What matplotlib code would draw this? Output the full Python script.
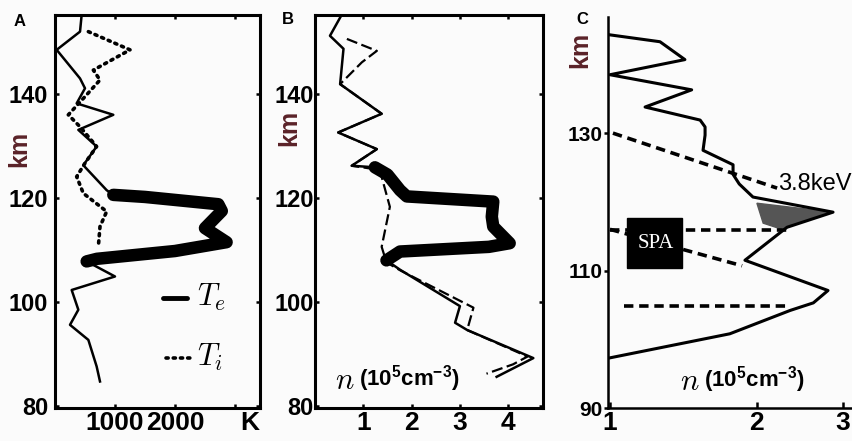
import numpy as np
import matplotlib.pyplot as plt
from matplotlib.patches import Rectangle

plt.rcParams['font.family'] = ['Liberation Sans', 'DejaVu Sans']
plt.rcParams['font.weight'] = 'bold'
plt.rcParams['mathtext.fontset'] = 'custom'
plt.rcParams['mathtext.rm'] = 'Liberation Sans:bold'
plt.rcParams['mathtext.bf'] = 'Liberation Sans:bold'

# ---- panel A: temperatures (K) vs altitude (km)
te_hi_K = [444, 417, 28, 417, 500, 361, 972, 389, 694, 472, 861, 972]
te_hi_km = [155.2, 152, 148.5, 143, 141.1, 138.2, 136, 133.1, 129.9, 126.3, 121.5, 120.6]
te_mid_K = [972, 1500, 2722, 2780, 2500, 2860, 2000, 700, 528]
te_mid_km = [120.6, 120.2, 118.8, 117.5, 114.2, 111.5, 109.8, 108.3, 107.8]
te_lo_K = [528, 1000, 278, 389, 250, 556, 694, 750]
te_lo_km = [107.8, 104.9, 102.3, 98.5, 95.6, 92.7, 87.6, 84.7]
ti_K = [556, 1250, 639, 750, 500, 222, 417, 694, 500, 361, 472, 861, 750, 722]
ti_km = [152, 148.5, 144.6, 142.7, 139.5, 136, 133.7, 129.9, 126.7, 124.1, 120.9, 117.4, 114.5, 110.6]

# ---- panel B: density (1e5 cm-3) vs altitude
nb_hi = [0.55, 0.31, 0.59, 0.52, 1.38, 0.48, 1.28, 0.76, 1.24]
nb_hi_km = [155.2, 151.2, 148.7, 141.9, 136.2, 132.6, 129.4, 126.2, 125.9]
nb_mid = [1.24, 1.5, 1.76, 1.9, 3.69, 3.66, 3.69, 4.03, 3.6, 1.76, 1.48]
nb_mid_km = [125.9, 124.5, 121.5, 120.3, 119.3, 116.4, 114.5, 111.3, 110.6, 109.7, 108.0]
nb_lo = [1.48, 1.76, 3.0, 2.9, 3.15, 4.52, 3.76]
nb_lo_km = [108.0, 106.2, 99.2, 96.0, 94.6, 89.2, 85.6]
nb_dash = [0.66, 1.28, 0.97, 0.52, 1.38, 0.48, 1.28, 0.76, 1.34, 1.55, 1.38, 1.48,
           1.78, 3.28, 3.15, 4.4, 4.1, 3.55]
nb_dash_km = [150.6, 148.3, 146.1, 141.9, 136.2, 132.6, 129.4, 126.2, 125.4, 118.3, 110.6, 107.6,
              106.0, 98.9, 94.6, 89.5, 88.0, 86.2]

# ---- panel C
nc = [1.0, 1.266, 1.424, 1.0, 1.47, 1.18, 1.53, 1.566, 1.566, 1.551, 1.787, 1.787, 1.84,
      1.963, 2.864, 2.305, 1.89, 2.797, 2.61, 2.34, 1.76, 1.0]
nc_km = [144.3, 143.3, 140.7, 138.5, 136.3, 133.8, 131.9, 130.9, 129.7, 127.5, 125.4, 124.0, 122.6,
         120.7, 118.5, 116.3, 111.5, 107.1, 105.3, 104.2, 100.8, 97.3]
shade_n = [2.0, 2.86, 2.23, 2.06]
shade_km = [119.8, 118.5, 116.1, 116.9]
guide_n = [[1.014, 2.2], [1.0, 2.3], [1.0, 1.865], [1.07, 2.34]]
guide_km = [[130.0, 122.0], [115.9, 115.9], [116.0, 110.7], [104.9, 104.9]]

W, H = 853, 441
fig = plt.figure(figsize=(W / 100, H / 100), dpi=100, facecolor='#fbfbfb')


def box(l, t, r, b):
    return [l / W, 1 - b / H, (r - l) / W, (b - t) / H]


def ftext(x, y, s, **kw):
    fig.text(x / W, 1 - y / H, s, **kw)


km_col = '#5a2228'
dots = (0, (0.6, 1.4))

axA = fig.add_axes(box(55, 15, 260, 408))
axB = fig.add_axes(box(315, 15, 543, 408))
axC = fig.add_axes(box(608, 17, 853, 408))

for ax in (axA, axB):
    ax.set_facecolor('none')
    for s in ax.spines.values():
        s.set_linewidth(2.2)
    ax.tick_params(direction='in', length=3, width=1.8, top=True, right=True)
    ax.tick_params(axis='x', labelsize=19, pad=2)
    ax.set_ylim(79.6, 155.2)
    ax.set_yticks([80, 100, 120, 140])

# A
axA.plot(te_hi_K, te_hi_km, color='k', lw=1.8, solid_joinstyle='round')
axA.plot(te_mid_K, te_mid_km, color='k', lw=9, solid_joinstyle='round', solid_capstyle='round')
axA.plot(te_lo_K, te_lo_km, color='k', lw=1.8, solid_joinstyle='round')
axA.plot(ti_K, ti_km, color='k', lw=2.6, linestyle=dots, dash_capstyle='round')
axA.set_xlim(0, 3417)
axA.set_xticks([1000, 2000, 3000])
axA.set_xticklabels(['1000', '2000', ''])
axA.tick_params(axis='y', labelsize=17, pad=5)

# legend
axA.plot([1800, 2200], [100.8, 100.8], color='k', lw=3.5, solid_capstyle='round')
ftext(197, 297, r'$T_e$', fontsize=22, math_fontfamily='cm', va='center')
axA.plot([1850, 2280], [89.2, 89.2], color='k', lw=2.6, linestyle=dots, dash_capstyle='round')
ftext(197, 357, r'$T_i$', fontsize=22, math_fontfamily='cm', va='center')
ftext(250, 423, 'K', fontsize=19, ha='center', va='center')

# B
axB.plot(nb_hi, nb_hi_km, color='k', lw=1.8, solid_joinstyle='round')
axB.plot(nb_mid, nb_mid_km, color='k', lw=9, solid_joinstyle='round', solid_capstyle='round')
axB.plot(nb_lo, nb_lo_km, color='k', lw=1.8, solid_joinstyle='round')
axB.plot(nb_dash, nb_dash_km, color='k', lw=1.6, linestyle=(0, (5, 2)))
axB.set_xlim(0, 4.72)
axB.set_xticks([1, 2, 3, 4])
axB.tick_params(axis='y', labelsize=17, pad=1)
ftext(335, 381, r'$n$', fontsize=22, math_fontfamily='cm', va='center')
ftext(359, 379, r'(10$^{\mathbf{5}}$cm$^{\mathbf{-3}}$)', fontsize=16, va='center')

# C
axC.set_facecolor('none')
axC.set_xscale('log')
axC.plot(nc, nc_km, color='k', lw=2.2, solid_joinstyle='round')
axC.fill(shade_n, shade_km, color='#555555', zorder=1)
for gn, gk in zip(guide_n, guide_km):
    axC.plot(gn, gk, color='k', lw=2.6, linestyle=(0, (2.6, 1.6)))
axC.add_patch(Rectangle((1.083, 110.4), 1.405 - 1.083, 117.6 - 110.4, color='k', zorder=3))
axC.text(1.24, 114.0, 'SPA', color='white', fontsize=15, fontweight='normal',
         family=['Liberation Serif'], ha='center', va='center', zorder=4)
axC.text(2.21, 122.6, '3.8keV', fontsize=17, fontweight='normal', va='center', ha='left')
axC.set_xlim(0.9906, 3.147)
axC.set_ylim(90, 146.9)
axC.spines['top'].set_visible(False)
axC.spines['right'].set_visible(False)
axC.spines['left'].set_linewidth(1.8)
axC.spines['bottom'].set_linewidth(1.8)
axC.set_xticks([1, 2, 3])
axC.set_xticklabels(['1', '2', '3'])
axC.minorticks_off()
axC.set_yticks([90, 110, 130])
axC.tick_params(axis='x', direction='in', length=4, width=1.8, labelsize=19, pad=2)
axC.tick_params(axis='y', direction='out', length=3, width=1.8, labelsize=15, pad=1)
ftext(680, 382, r'$n$', fontsize=22, math_fontfamily='cm', va='center')
ftext(704, 380, r'(10$^{\mathbf{5}}$cm$^{\mathbf{-3}}$)', fontsize=16, va='center')

# axis labels and panel letters
ftext(19, 149, 'km', fontsize=18, color=km_col, rotation=90, ha='center', va='center')
ftext(289, 128, 'km', fontsize=18, color=km_col, rotation=90, ha='center', va='center')
ftext(580, 50, 'km', fontsize=18, color=km_col, rotation=90, ha='center', va='center')
ftext(20, 21, 'A', fontsize=12, ha='center', va='center')
ftext(288, 19, 'B', fontsize=12, ha='center', va='center')
ftext(582, 19, 'C', fontsize=12, ha='center', va='center')

fig.savefig('out.png', dpi=100, facecolor=fig.get_facecolor())
